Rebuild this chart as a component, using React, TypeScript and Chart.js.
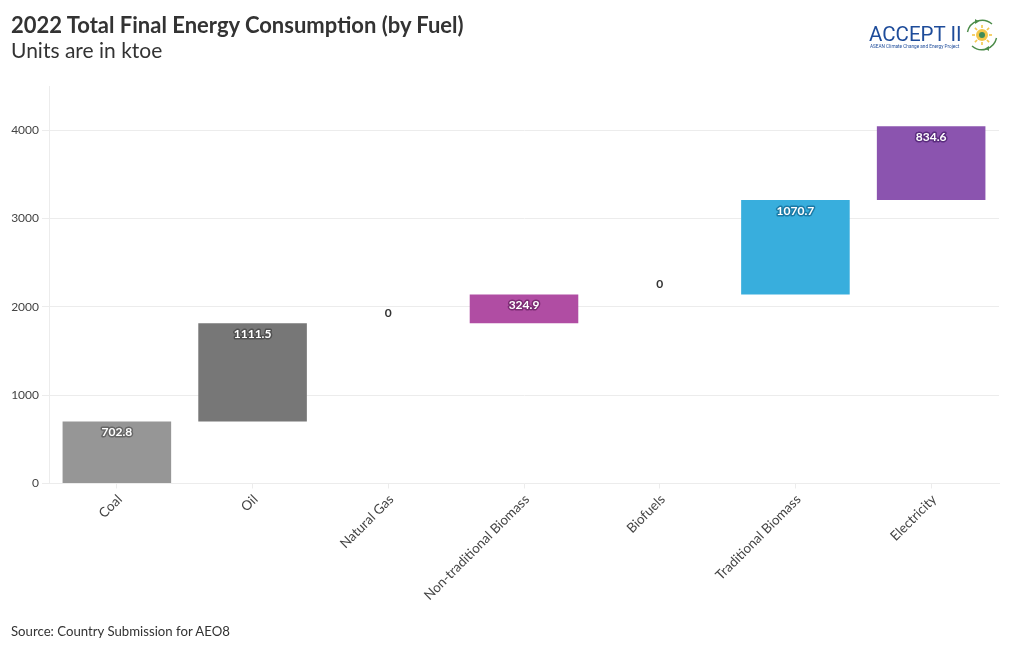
import React, { useEffect, useRef } from "react";
import { Chart, registerables } from "chart.js";

Chart.register(...registerables);

const categories = ["Coal", "Oil", "Natural Gas", "Non-traditional Biomass", "Biofuels", "Traditional Biomass", "Electricity"];
const values = [702.8, 1111.5, 0, 324.9, 0, 1070.7, 834.6];
const barColors = ["#969696", "#777777", "#777777", "#B04DA3", "#B04DA3", "#38AEDD", "#8B54AF"];
const haloColors = ["#666666", "#505050", "#ffffff", "#7a2b72", "#ffffff", "#1b7aa6", "#5a2c7e"];
const yTicks = [0, 1000, 2000, 3000, 4000];
const rayAngles = [0, 45, 90, 135, 180, 225, 270, 315];
const FONT = "Lato, 'Noto Sans', sans-serif";

const ranges: [number, number][] = [];
values.reduce((sum, v) => {
  ranges.push([sum, sum + v]);
  return sum + v;
}, 0);

const labelPlugin = {
  id: "valueLabels",
  afterDatasetsDraw(chart: any) {
    const ctx = chart.ctx;
    const meta = chart.getDatasetMeta(0);
    ctx.save();
    ctx.textAlign = "center";
    ctx.textBaseline = "middle";
    ctx.font = `700 12px ${FONT}`;
    meta.data.forEach((bar: any, i: number) => {
      const text = String(values[i]);
      const top = chart.scales.y.getPixelForValue(ranges[i][1]);
      if (values[i] === 0) {
        ctx.fillStyle = "#333333";
        ctx.fillText(text, bar.x, top - 10);
      } else {
        const y = top + 11;
        ctx.lineJoin = "round";
        ctx.lineWidth = 3;
        ctx.strokeStyle = haloColors[i];
        ctx.strokeText(text, bar.x, y);
        ctx.fillStyle = "#ffffff";
        ctx.fillText(text, bar.x, y);
      }
    });
    ctx.restore();
  },
};

export default function App() {
  const ref = useRef<HTMLCanvasElement>(null);
  useEffect(() => {
    const chart = new Chart(ref.current!, {
      type: "bar",
      data: {
        labels: categories,
        datasets: [{ data: ranges as any, backgroundColor: barColors, barPercentage: 1, categoryPercentage: 0.8, borderSkipped: false }],
      },
      options: {
        responsive: false,
        animation: false,
        layout: { padding: { top: 86, right: 21, left: 0, bottom: 0 } },
        plugins: { legend: { display: false }, tooltip: { enabled: false }, title: { display: false } },
        scales: {
          x: {
            grid: { display: true, offset: false, drawOnChartArea: false, color: "#ececec", tickLength: 5 },
            border: { color: "#ececec" },
            ticks: { color: "#444444", font: { family: FONT, size: 13.4 }, minRotation: 45, maxRotation: 45, autoSkip: false, padding: 3, labelOffset: 3 },
            afterFit: (s: any) => { s.height = 166.5; },
          },
          y: {
            min: 0,
            max: 4500,
            afterBuildTicks: (s: any) => { s.ticks = yTicks.map((value) => ({ value })); },
            grid: { color: "#ececec", tickLength: 7 },
            border: { color: "#ececec" },
            ticks: { color: "#444444", font: { family: FONT, size: 12 }, padding: 3, callback: (v: any) => String(v) },
            afterFit: (s: any) => { s.width = 49; },
          },
        },
      },
      plugins: [labelPlugin],
    } as any);
    return () => chart.destroy();
  }, []);

  return (
    <div style={{ position: "fixed", left: 0, top: 0, width: 1020, height: 650, background: "#fff", overflow: "hidden", fontFamily: FONT, color: "#333" }}>
      <canvas ref={ref} width={1020} height={650} style={{ position: "absolute", left: 0, top: 0 }} />
      <div style={{ position: "absolute", left: 11, top: 11, fontSize: 22, fontWeight: 700, lineHeight: "28px", whiteSpace: "nowrap" }}>2022 Total Final Energy Consumption (by Fuel)</div>
      <div style={{ position: "absolute", left: 11, top: 36, fontSize: 21, lineHeight: "28px", whiteSpace: "nowrap" }}>Units are in ktoe</div>
      <div style={{ position: "absolute", left: 11, top: 622, fontSize: 13.2, lineHeight: "18px", whiteSpace: "nowrap" }}>Source: Country Submission for AEO8</div>
      <div style={{ position: "absolute", left: 869, top: 22, fontFamily: "Roboto, sans-serif", fontWeight: 400, fontSize: 20.5, lineHeight: "24px", color: "#1E4C9A", whiteSpace: "nowrap" }}>ACCEPT II</div>
      <div style={{ position: "absolute", left: 870, top: 43, fontFamily: "Roboto, sans-serif", fontSize: 4.7, lineHeight: "7px", color: "#1E4C9A", whiteSpace: "nowrap" }}>ASEAN Climate Change and Energy Project</div>
      <svg style={{ position: "absolute", left: 965, top: 18 }} width="34" height="34" viewBox="0 0 34 34">
        <path d="M 27 6 A 15 15 0 0 0 2.5 14" fill="none" stroke="#4C8C4A" strokeWidth="1.4" />
        <path d="M 7 28 A 15 15 0 0 0 31.5 20" fill="none" stroke="#4C8C4A" strokeWidth="1.4" />
        <path d="M 10 1 L 14 3.5 L 10 6 Z" fill="#4C8C4A" />
        <path d="M 24 33 L 20 30.5 L 24 28 Z" fill="#4C8C4A" />
        {rayAngles.map((a) => (
          <line key={a} x1="17" y1="7" x2="17" y2="10" stroke="#F3C64A" strokeWidth="1.6" transform={`rotate(${a} 17 17)`} />
        ))}
        <circle cx="17" cy="17" r="6" fill="#F3C64A" />
        <circle cx="17" cy="17" r="3" fill="#3E8B5A" />
      </svg>
    </div>
  );
}
